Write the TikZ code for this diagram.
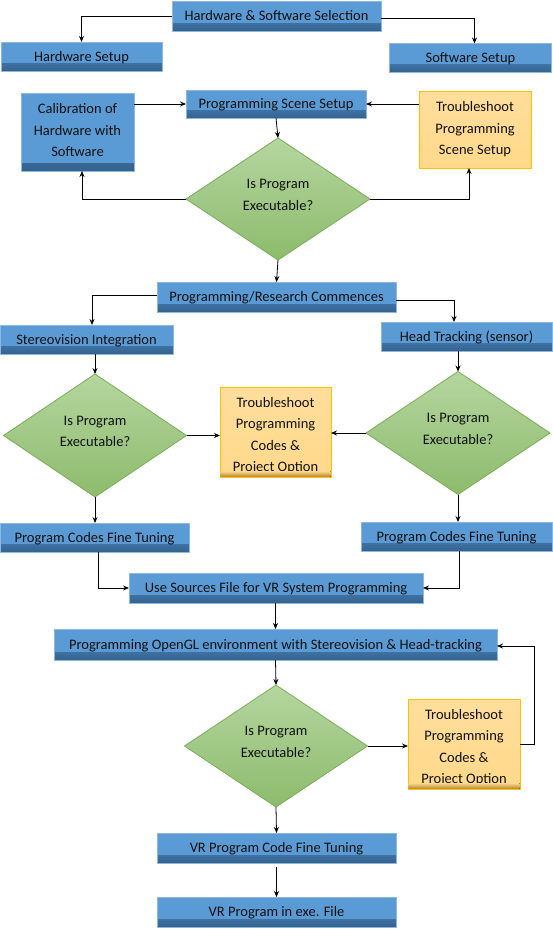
\documentclass[tikz,border=0pt]{standalone}
\usepackage{fontspec}
\setmainfont{Carlito}
\usetikzlibrary{shapes.geometric,arrows.meta}
\definecolor{bluefill}{HTML}{5B9BD5}
\definecolor{bluedark}{HTML}{34628F}
\definecolor{blueline}{HTML}{8FB8DE}
\definecolor{orfill}{HTML}{FFD98A}
\definecolor{ortop}{HTML}{FFDE9C}
\definecolor{ordark}{HTML}{B8893A}
\definecolor{orline}{HTML}{FFC000}
\definecolor{grtop}{HTML}{B5D6A0}
\definecolor{grbot}{HTML}{8DBB6C}
\definecolor{grline}{HTML}{7AAE55}
\definecolor{txt}{HTML}{111111}
\tikzset{
  every node/.style={font=\fontsize{14.5}{21.5}\selectfont, text=txt, inner sep=0pt, outer sep=0pt},
  bluebox/.style={draw=blueline, line width=0.8pt, fill=bluefill, align=center,
    text height=10pt, text depth=1pt,
    path picture={\fill[top color=bluefill, bottom color=bluedark]
      ([yshift=8pt]path picture bounding box.south west) rectangle (path picture bounding box.south east);}},
  orbox/.style={draw=orline, line width=1pt, top color=ortop, bottom color=orfill, align=center},
  decide/.style={diamond, aspect=1.5, draw=grline, line width=0.8pt, top color=grtop, bottom color=grbot,
    align=center, text depth=8pt},
  arr/.style={draw=black, line width=0.8pt, -{Stealth[length=6pt,width=5pt]}}
}
\begin{document}
\begin{tikzpicture}[x=1pt,y=-1pt]
\useasboundingbox[fill=white] (0,0) rectangle (553,929);
% row 1
\node[bluebox, minimum width=209pt, minimum height=30pt] (sel) at (276.5,16) {Hardware \& Software Selection};
\node[bluebox, minimum width=161pt, minimum height=29pt] (hw) at (81.5,56.5) {Hardware Setup};
\node[bluebox, minimum width=162pt, minimum height=29pt] (sw) at (470.5,58) {Software Setup};
% scene setup
\node[bluebox, text height=53.5pt, text depth=4pt, minimum width=113pt, minimum height=78pt] (cal) at (77.5,132) {Calibration of\\Hardware with\\Software};
\node[bluebox, minimum width=180pt, minimum height=28pt] (pss) at (276,104) {Programming Scene Setup};
\node[orbox, minimum width=112pt, minimum height=77pt] (ts1) at (475,129.5) {Troubleshoot\\Programming\\Scene Setup};
\node[decide, minimum width=184pt, minimum height=122pt] (d1) at (278,199) {Is Program\\Executable?};
% research
\node[bluebox, minimum width=239pt, minimum height=30pt] (prc) at (276.5,297) {Programming/Research Commences};
\node[bluebox, minimum width=173pt, minimum height=29pt] (si) at (86.5,339.5) {Stereovision Integration};
\node[bluebox, minimum width=171pt, minimum height=29pt] (ht) at (466.5,336.5) {Head Tracking (sensor)};
\node[decide, minimum width=183pt, minimum height=123pt] (dl) at (95,435.5) {Is Program\\Executable?};
\node[orbox, text height=82pt, minimum width=111pt, minimum height=90pt] (ts2) at (275.5,432) {Troubleshoot\\Programming\\Codes \&\\Project Option};
\fill[top color=orfill, bottom color=ordark] ([xshift=0.5pt,yshift=6pt]ts2.south west) rectangle ([xshift=-0.5pt,yshift=0.5pt]ts2.south east);
\node[decide, minimum width=184pt, minimum height=123pt] (dr) at (458,433) {Is Program\\Executable?};
\node[bluebox, minimum width=189pt, minimum height=29pt] (pcl) at (94.5,537.5) {Program Codes Fine Tuning};
\node[bluebox, minimum width=191pt, minimum height=29pt] (pcr) at (456.5,536.5) {Program Codes Fine Tuning};
\node[bluebox, minimum width=294pt, minimum height=30pt] (us) at (276,588) {Use Sources File for VR System Programming};
% OpenGL
\node[bluebox, minimum width=443pt, minimum height=31pt] (ogl) at (275.5,644.5) {Programming OpenGL environment with Stereovision \& Head-tracking};
\node[decide, minimum width=183pt, minimum height=122pt] (d3) at (276,746) {Is Program\\Executable?};
\node[orbox, text height=82pt, minimum width=112pt, minimum height=90pt] (ts3) at (464,744) {Troubleshoot\\Programming\\Codes \&\\Project Option};
\fill[top color=orfill, bottom color=ordark] ([xshift=0.5pt,yshift=6pt]ts3.south west) rectangle ([xshift=-0.5pt,yshift=0.5pt]ts3.south east);
\node[bluebox, minimum width=239pt, minimum height=30pt] (vrt) at (276.5,848) {VR Program Code Fine Tuning};
\node[bluebox, minimum width=239pt, minimum height=30pt] (vre) at (276.5,912) {VR Program in exe. File};
\coordinate (fb) at (534,744);
% connectors
\draw[arr] (sel.west) -| (hw.north);
\draw[arr] ([yshift=-2pt]sel.east) -| ([xshift=4pt]sw.north);
\draw[arr] (cal.east |- pss.west) -- (pss.west);
\draw[arr] (ts1.west |- pss.east) -- (pss.east);
\draw[arr] (pss.south) -- (d1.north);
\draw[arr] (d1.west) -| ([xshift=4.5pt]cal.south);
\draw[arr] (d1.east) -| ([xshift=-6pt]ts1.south);
\draw[arr] (d1.south) -- (prc.north);
\draw[arr] ([yshift=2pt]prc.west) -| ([xshift=5.5pt]si.north);
\draw[arr] ([yshift=-3pt]prc.east) -| ([xshift=-12.5pt]ht.north);
\draw[arr] (dl.north |- si.south) -- (dl.north);
\draw[arr] (dr.north |- ht.south) -- (dr.north);
\draw[arr] (dl.east) -- (dl.east -| ts2.west);
\draw[arr] (dr.west) -- (dr.west -| ts2.east);
\draw[arr] (dl.south) -- (dl.south |- pcl.north);
\draw[arr] (dr.south) -- (dr.south |- pcr.north);
\draw[arr] ([xshift=3.5pt]pcl.south) |- (us.west);
\draw[arr] ([xshift=2.5pt]pcr.south) |- (us.east);
\draw[arr] (us.south -| ogl.north) -- (ogl.north);
\draw[arr] (ogl.south) -- (d3.north);
\draw[arr] (d3.east) -- (d3.east -| ts3.west);
\draw[arr] (ts3.east) -- (fb) |- ([yshift=-1.5pt]ogl.east);
\draw[arr] (d3.south) -- (vrt.north);
\draw[arr] ([yshift=-4pt]vrt.south) -- (vre.north);
\end{tikzpicture}
\end{document}
